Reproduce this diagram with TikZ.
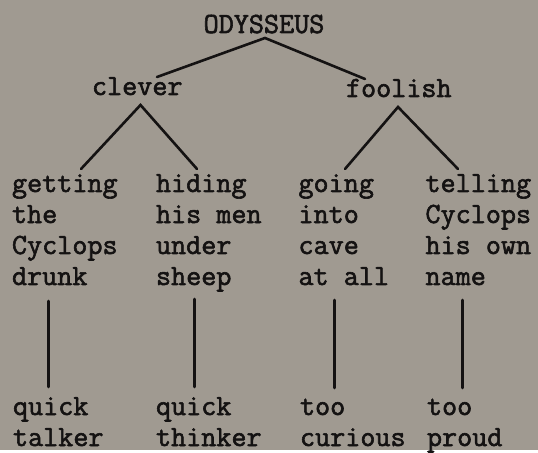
\documentclass[tikz,border=0pt]{standalone}
\usepackage{fontspec}
\newfontfamily\typewriter{Latin Modern Mono}[FakeBold=2]
\definecolor{paper}{RGB}{160,154,145}
\definecolor{ink}{RGB}{20,18,18}
\begin{document}
\begin{tikzpicture}[x=1pt,y=-1pt,
  word/.style={inner sep=0pt, outer sep=0pt, text=ink, align=left,
    font=\typewriter\fontsize{29.3}{31}\selectfont},
  link/.style={draw=ink, line width=2.6pt, line cap=round}]
% sheet
\fill[paper] (0,0) rectangle (538,450);

% root and first split
\node[word, anchor=base] (ody) at (264,33) {ODYSSEUS};
\node[word, anchor=base west] (clever) at (92,95) {clever};
\node[word, anchor=base west] (foolish) at (346,97) {foolish};

% the four deeds (placed by the baseline of their last line)
\node[word, anchor=base west] (drunk) at (12,285) {getting\\the\\Cyclops\\drunk};
\node[word, anchor=base west] (sheep) at (156,285) {hiding\\his men\\under\\sheep};
\node[word, anchor=base west] (cave) at (298.5,285) {going\\into\\cave\\at all};
\node[word, anchor=base west] (name) at (425.5,285) {telling\\Cyclops\\his own\\name};

% the traits they show
\node[word, anchor=base west] (talker) at (13,446) {quick\\talker};
\node[word, anchor=base west] (thinker) at (156,446) {quick\\thinker};
\node[word, anchor=base west] (curious) at (300,446) {too\\curious};
\node[word, anchor=base west] (proud) at (427,446) {too\\proud};

% line end points
\coordinate (ody-apex) at (265,38);
\coordinate (clever-top) at (157,77);
\coordinate (foolish-top) at (365,79);
\coordinate (clever-apex) at (140.5,105);
\coordinate (foolish-apex) at (398,107);
\coordinate (drunk-top) at (81,169);
\coordinate (sheep-top) at (197,169);
\coordinate (cave-top) at (345,169);
\coordinate (name-top) at (458,169);
\coordinate (drunk-bot) at (48.7,301);
\coordinate (sheep-bot) at (194.6,299);
\coordinate (cave-bot) at (334.6,300);
\coordinate (name-bot) at (462.6,300);
\coordinate (talker-top) at (48.7,387);
\coordinate (thinker-top) at (194.6,387);
\coordinate (curious-top) at (334.6,388);
\coordinate (proud-top) at (462.6,388);

% connectors
\draw[link] (clever-top) -- (ody-apex) -- (foolish-top);
\draw[link] (drunk-top) -- (clever-apex) -- (sheep-top);
\draw[link] (cave-top) -- (foolish-apex) -- (name-top);
\draw[link] (drunk-bot) -- (talker-top);
\draw[link] (sheep-bot) -- (thinker-top);
\draw[link] (cave-bot) -- (curious-top);
\draw[link] (name-bot) -- (proud-top);
\end{tikzpicture}
\end{document}
